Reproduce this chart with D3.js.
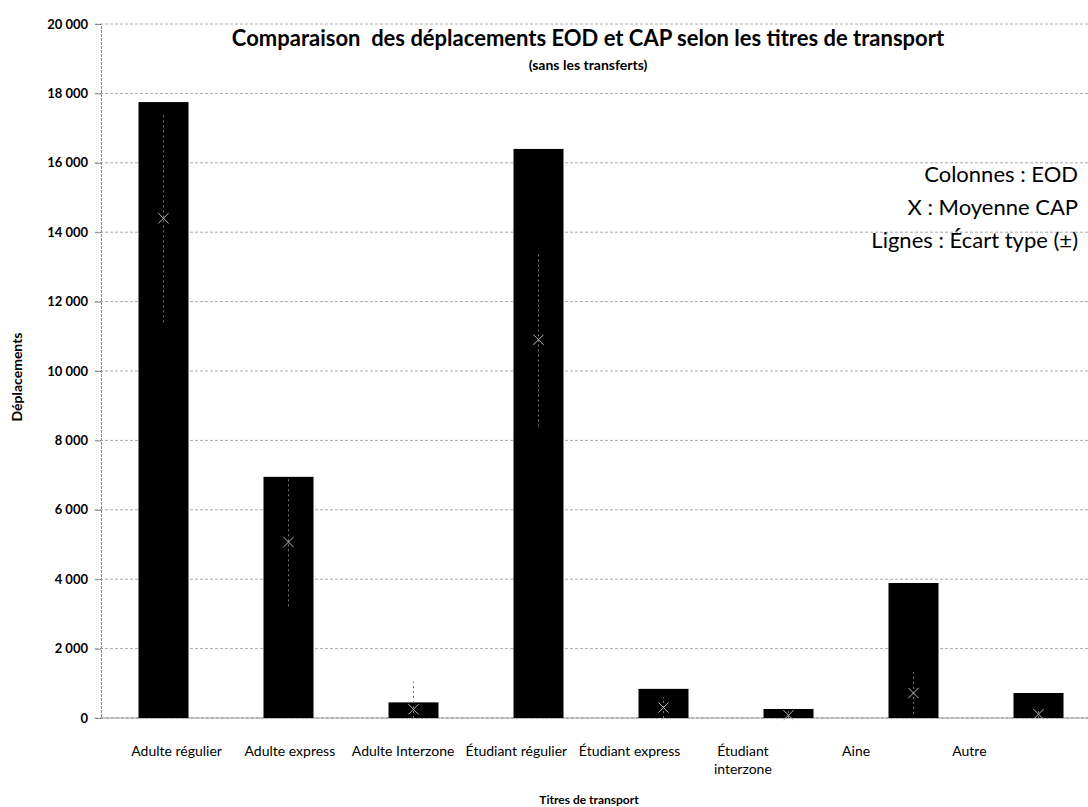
<!DOCTYPE html>
<html>
<head>
<meta charset="utf-8">
<script src="https://cdn.jsdelivr.net/npm/d3@7"></script>
<style>
  body { margin: 0; background: #fff; }
  svg text { font-family: Lato, "Open Sans", sans-serif; fill: #000; }
</style>
</head>
<body>
<svg width="1088" height="807"></svg>
<script>
// data
var categories = ["Adulte régulier", "Adulte express", "Adulte Interzone", "Étudiant régulier",
                  "Étudiant express", "Étudiant interzone", "Aine", "Autre"];
var eodValues = [17750, 6950, 450, 16400, 840, 260, 3890, 720];
var capMeans = [14400, 5070, 250, 10900, 300, 80, 720, 110];
var capStd = [3000, 1850, 800, 2500, 300, 120, 600, 120];
var yTicks = [0, 2000, 4000, 6000, 8000, 10000, 12000, 14000, 16000, 18000, 20000];

var svg = d3.select("svg"),
    plotLeft = 101, plotTop = 24, plotBottom = 718, plotRight = 1101;

var fmt = d3.formatLocale({ decimal: ",", thousands: " ", grouping: [3], currency: ["", ""] }).format(",d");

var x = d3.scaleBand().domain(categories).range([plotLeft, plotRight]).paddingInner(0.6).paddingOuter(0.3);
// the category labels sit on a slightly narrower spacing in the source
var xl = d3.scaleBand().domain(categories).range([120, 1026]);
var y = d3.scaleLinear().domain([0, 20000]).range([plotBottom, plotTop]);

// gridlines
svg.append("g")
    .selectAll("line")
    .data(yTicks)
    .enter().append("line")
    .attr("x1", plotLeft - 6).attr("x2", 1088)
    .attr("y1", function(d) { return y(d); })
    .attr("y2", function(d) { return y(d); })
    .attr("stroke", "#aaa")
    .attr("stroke-width", 1)
    .attr("stroke-dasharray", "3,2");

// y axis
var yAxis = svg.append("g")
    .attr("transform", "translate(" + plotLeft + ",0)")
    .call(d3.axisLeft(y).tickValues(yTicks).tickFormat(fmt).tickSize(6).tickPadding(7));
yAxis.select(".domain").attr("stroke", "#888").attr("stroke-dasharray", "3,1");
yAxis.selectAll(".tick line").attr("stroke", "#888");
yAxis.selectAll("text").attr("font-size", 13).attr("font-weight", "bold")
    .style("font-family", "Lato, sans-serif");

// x axis baseline
svg.append("line")
    .attr("x1", plotLeft).attr("x2", 1088)
    .attr("y1", plotBottom).attr("y2", plotBottom)
    .attr("stroke", "#888").attr("stroke-dasharray", "4,1");

// bars (EOD)
svg.append("g")
    .selectAll("rect")
    .data(categories)
    .enter().append("rect")
    .attr("x", function(d) { return x(d); })
    .attr("width", x.bandwidth())
    .attr("y", function(d, i) { return y(eodValues[i]); })
    .attr("height", function(d, i) { return y(0) - y(eodValues[i]); })
    .attr("fill", "#000");

// standard deviation lines
svg.append("g")
    .selectAll("line")
    .data(categories)
    .enter().append("line")
    .attr("x1", function(d) { return x(d) + x.bandwidth() / 2; })
    .attr("x2", function(d) { return x(d) + x.bandwidth() / 2; })
    .attr("y1", function(d, i) { return y(Math.max(0, capMeans[i] - capStd[i])); })
    .attr("y2", function(d, i) { return y(capMeans[i] + capStd[i]); })
    .attr("stroke", "#777")
    .attr("stroke-width", 1)
    .attr("stroke-dasharray", "2,3");

// CAP means
svg.append("g")
    .selectAll("path")
    .data(categories)
    .enter().append("path")
    .attr("d", d3.symbol().type(d3.symbolX).size(70))
    .attr("transform", function(d, i) {
        return "translate(" + (x(d) + x.bandwidth() / 2) + "," + y(capMeans[i]) + ")";
    })
    .attr("fill", "none")
    .attr("stroke", "#bbb")
    .attr("stroke-width", 1);

// category labels
var labels = svg.append("g")
    .selectAll("text")
    .data(categories)
    .enter().append("text")
    .attr("text-anchor", "middle")
    .attr("font-size", 14)
    .attr("x", function(d) { return xl(d) + xl.bandwidth() / 2; })
    .attr("y", 756);
labels.each(function(d) {
    var t = d3.select(this);
    if (d === "Étudiant interzone") {
        t.append("tspan").attr("x", t.attr("x")).text("Étudiant");
        t.append("tspan").attr("x", t.attr("x")).attr("dy", 18).text("interzone");
    } else {
        t.text(d);
    }
});

// titles
svg.append("text")
    .attr("x", 588).attr("y", 46)
    .attr("text-anchor", "middle")
    .attr("font-size", 22).attr("font-weight", "bold")
    .style("white-space", "pre")
    .text("Comparaison  des déplacements EOD et CAP selon les titres de transport");
svg.append("text")
    .attr("x", 588).attr("y", 70)
    .attr("text-anchor", "middle")
    .attr("font-size", 14).attr("font-weight", "bold")
    .text("(sans les transferts)");

svg.append("text")
    .attr("x", 589).attr("y", 804)
    .attr("text-anchor", "middle")
    .attr("font-size", 12).attr("font-weight", "bold")
    .text("Titres de transport");

svg.append("text")
    .attr("transform", "translate(22,377) rotate(-90)")
    .attr("text-anchor", "middle")
    .attr("font-size", 14).attr("font-weight", "bold")
    .text("Déplacements");

// legend notes
var notes = ["Colonnes : EOD", "X : Moyenne CAP", "Lignes : Écart type (±)"];
svg.append("g")
    .selectAll("text")
    .data(notes)
    .enter().append("text")
    .attr("x", 1078)
    .attr("y", function(d, i) { return 182 + i * 33; })
    .attr("text-anchor", "end")
    .attr("font-size", 22)
    .text(function(d) { return d; });
</script>
</body>
</html>
